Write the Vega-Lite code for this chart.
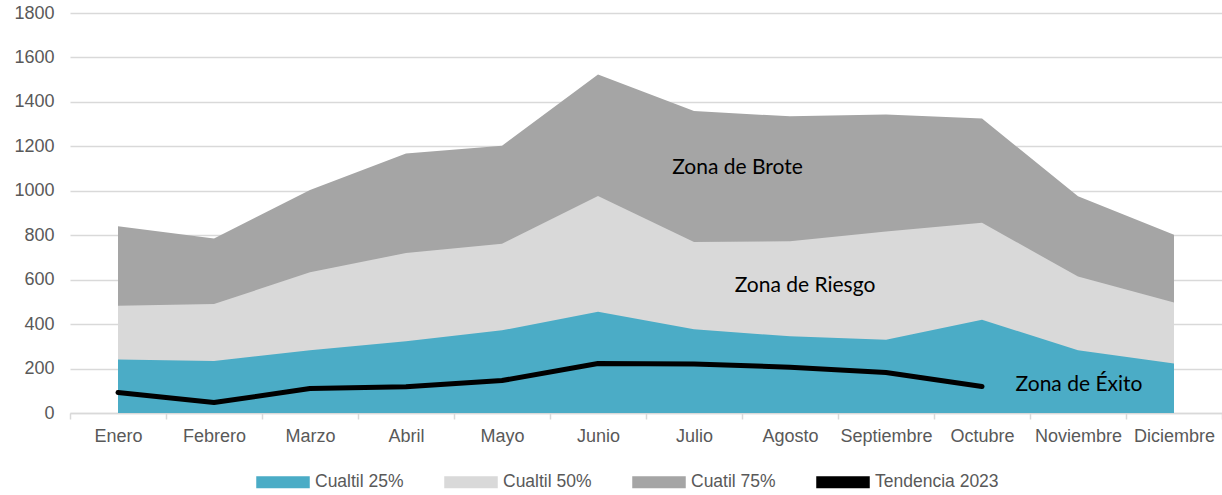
{
  "$schema": "https://vega.github.io/schema/vega-lite/v6.json",
  "width": 1152,
  "height": 400,
  "autosize": "none",
  "padding": {"left": 70, "top": 13, "right": 0, "bottom": 82},
  "config": {
    "view": {"stroke": null},
    "font": "Liberation Sans"
  },
  "datasets": {
    "meses": [
      {"mes": "Enero", "q25": 241, "q50": 483, "q75": 840, "tend": 92},
      {"mes": "Febrero", "q25": 234, "q50": 490, "q75": 785, "tend": 47},
      {"mes": "Marzo", "q25": 282, "q50": 633, "q75": 1003, "tend": 110},
      {"mes": "Abril", "q25": 323, "q50": 720, "q75": 1168, "tend": 118},
      {"mes": "Mayo", "q25": 372, "q50": 762, "q75": 1203, "tend": 146},
      {"mes": "Junio", "q25": 456, "q50": 976, "q75": 1523, "tend": 223},
      {"mes": "Julio", "q25": 377, "q50": 770, "q75": 1359, "tend": 221},
      {"mes": "Agosto", "q25": 345, "q50": 773, "q75": 1335, "tend": 206},
      {"mes": "Septiembre", "q25": 330, "q50": 817, "q75": 1343, "tend": 182},
      {"mes": "Octubre", "q25": 420, "q50": 856, "q75": 1325, "tend": 119},
      {"mes": "Noviembre", "q25": 282, "q50": 614, "q75": 975, "tend": null},
      {"mes": "Diciembre", "q25": 223, "q50": 497, "q75": 802, "tend": null}
    ]
  },
  "data": {"name": "meses"},
  "encoding": {
    "x": {
      "field": "mes",
      "type": "nominal",
      "bandPosition": 0.5,
      "scale": {
        "type": "band",
        "paddingInner": 0,
        "paddingOuter": 0,
        "domain": ["Enero", "Febrero", "Marzo", "Abril", "Mayo", "Junio", "Julio", "Agosto", "Septiembre", "Octubre", "Noviembre", "Diciembre"]
      },
      "axis": {
        "title": null,
        "labelAngle": 0,
        "tickBand": "extent",
        "domainColor": "#d9d9d9",
        "domainWidth": 1.5,
        "tickColor": "#d9d9d9",
        "tickWidth": 1.5,
        "tickSize": 6,
        "labelPadding": 8,
        "labelFontSize": 18,
        "labelColor": "#595959",
        "grid": false
      }
    }
  },
  "layer": [
    {
      "mark": {"type": "area", "opacity": 1},
      "encoding": {
        "y": {
          "field": "q75",
          "type": "quantitative",
          "stack": null,
          "scale": {"domain": [0, 1800], "nice": false},
          "axis": {
            "title": null,
            "format": "d",
            "values": [0, 200, 400, 600, 800, 1000, 1200, 1400, 1600, 1800],
            "domain": false,
            "ticks": false,
            "grid": true,
            "gridColor": "#d9d9d9",
            "gridWidth": 1.5,
            "labelPadding": 16,
            "labelFontSize": 18,
            "labelColor": "#595959"
          }
        },
        "color": {
          "datum": "Cuatil 75%",
          "type": "nominal",
          "scale": {
            "domain": ["Cualtil 25%", "Cualtil 50%", "Cuatil 75%", "Tendencia 2023"],
            "range": ["#4bacc6", "#d9d9d9", "#a5a5a5", "#000000"]
          },
          "legend": {
            "title": null,
            "orient": "none",
            "direction": "horizontal",
            "legendX": 186,
            "legendY": 442,
            "padding": 0,
            "symbolSize": 2704,
            "symbolType": "M-1,-0.2H1V0.2H-1Z",
            "labelOffset": 5,
            "columnPadding": 38,
            "labelFontSize": 17.5,
            "labelColor": "#595959",
            "labelFont": "Liberation Sans",
            "encode": {
              "symbols": {
                "update": {
                  "shape": {"signal": "datum.value === 'Tendencia 2023' ? 'M-1,-0.1H1V0.1H-1Z' : 'M-1,-0.2H1V0.2H-1Z'"},
                  "fill": {"scale": "color", "field": "value"},
                  "strokeWidth": {"value": 0},
                  "opacity": {"value": 1}
                }
              }
            }
          }
        }
      }
    },
    {
      "mark": {"type": "area", "opacity": 1},
      "encoding": {
        "y": {"field": "q50", "type": "quantitative", "stack": null},
        "color": {"datum": "Cualtil 50%", "type": "nominal"}
      }
    },
    {
      "mark": {"type": "area", "opacity": 1},
      "encoding": {
        "y": {"field": "q25", "type": "quantitative", "stack": null},
        "color": {"datum": "Cualtil 25%", "type": "nominal"}
      }
    },
    {
      "mark": {"type": "line", "strokeWidth": 5, "strokeCap": "round", "strokeJoin": "round"},
      "encoding": {
        "y": {"field": "tend", "type": "quantitative"},
        "color": {"datum": "Tendencia 2023", "type": "nominal"}
      }
    },
    {
      "data": {"values": [{"mes": "Julio", "valor": 1102, "texto": "Zona de Brote"}]},
      "mark": {"type": "text", "font": "Lato", "fontSize": 21, "color": "#000000", "baseline": "middle", "align": "center", "dx": 43.5},
      "encoding": {
        "y": {"field": "valor", "type": "quantitative"},
        "text": {"field": "texto"}
      }
    },
    {
      "data": {"values": [{"mes": "Agosto", "valor": 573, "texto": "Zona de Riesgo"}]},
      "mark": {"type": "text", "font": "Lato", "fontSize": 21, "color": "#000000", "baseline": "middle", "align": "center", "dx": 15},
      "encoding": {
        "y": {"field": "valor", "type": "quantitative"},
        "text": {"field": "texto"}
      }
    },
    {
      "data": {"values": [{"mes": "Noviembre", "valor": 128, "texto": "Zona de Éxito"}]},
      "mark": {"type": "text", "font": "Lato", "fontSize": 21, "color": "#000000", "baseline": "middle", "align": "center", "dx": 1},
      "encoding": {
        "y": {"field": "valor", "type": "quantitative"},
        "text": {"field": "texto"}
      }
    }
  ]
}
